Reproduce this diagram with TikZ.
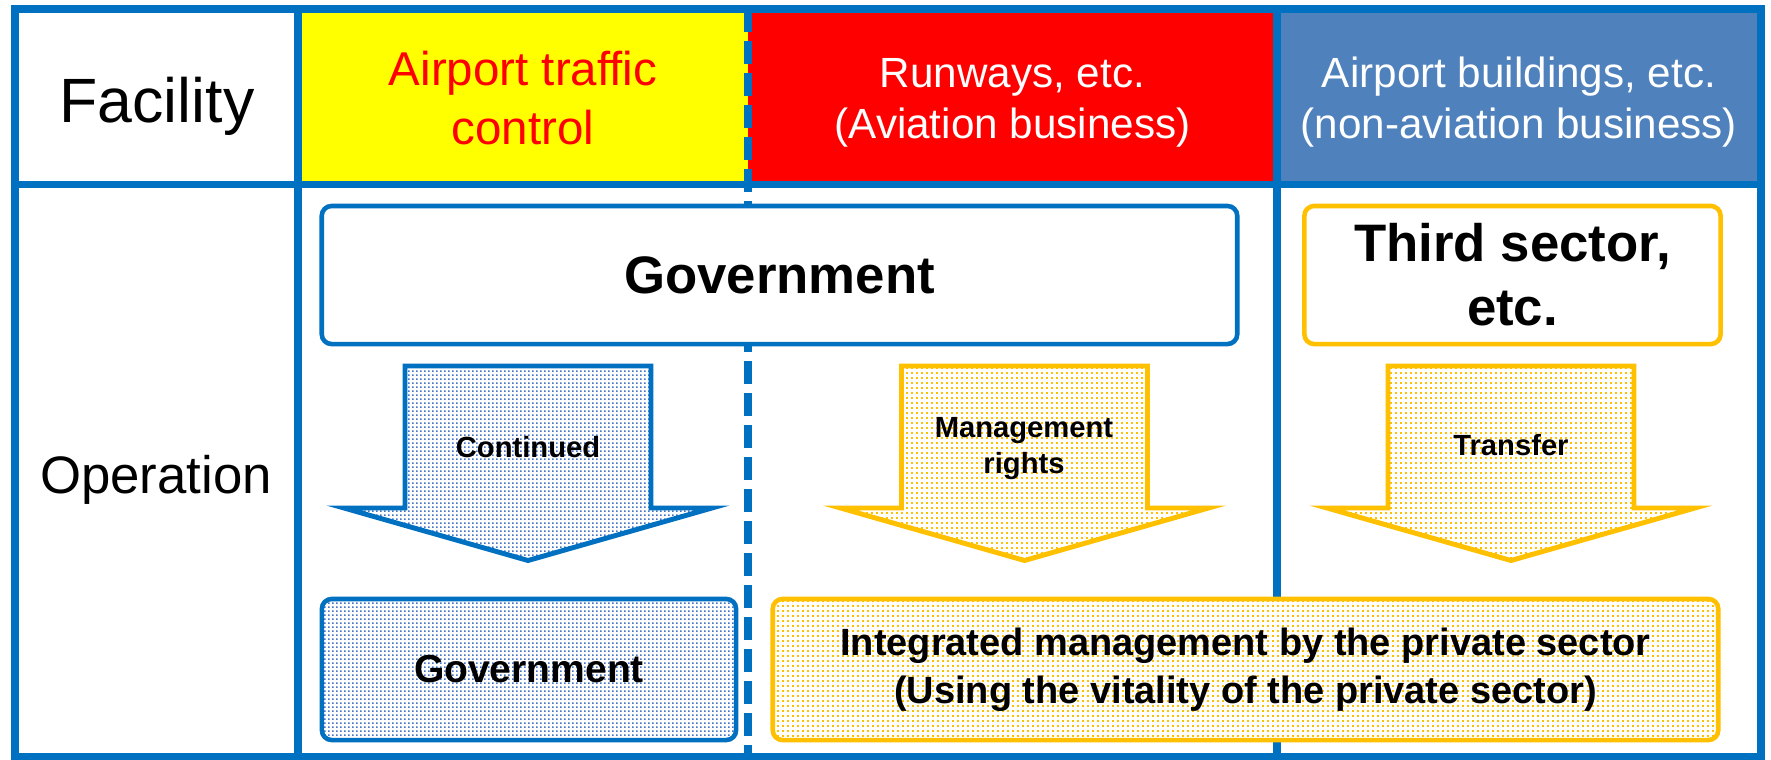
\documentclass[tikz,border=0pt]{standalone}
\usepackage{fontspec}
\setmainfont{Liberation Sans}
\usetikzlibrary{positioning, patterns.meta}
\definecolor{tblBlue}{HTML}{0070C0}
\definecolor{hdrBlue}{HTML}{4F81BD}
\definecolor{mOrange}{HTML}{FFC000}
\definecolor{dotBlue}{HTML}{4472C4}
\definecolor{hdrYellow}{HTML}{FFFF00}
\newcommand{\setfs}[2]{\fontsize{#1}{#2}\selectfont}

\tikzdeclarepattern{
  name=blueDots, type=uncolored,
  bottom left={(0pt,0pt)}, top right={(1.14pt,1.14pt)},
  tile size={(1.14pt,1.14pt)},
  code={\fill (0pt,0pt) rectangle (0.6pt,0.6pt);}
}
\tikzdeclarepattern{
  name=orangeDots, type=uncolored,
  bottom left={(0pt,0pt)}, top right={(1.3pt,1.3pt)},
  tile size={(1.3pt,1.3pt)},
  code={\fill (0pt,0pt) rectangle (0.55pt,0.55pt);}
}

\begin{document}
\begin{tikzpicture}[x=0.01cm, y=-0.01cm,
  grid/.style={draw=tblBlue, line width=2pt},
  hdr/.style={anchor=base, align=center, inner sep=0pt},
  blueBox/.style={draw=tblBlue, line width=1.3pt, rounded corners=2.8pt,
                  align=center, font=\bfseries, inner sep=0pt},
  orangeBox/.style={blueBox, draw=mOrange},
  blueArrow/.style={draw=tblBlue, line width=1.4pt, pattern=blueDots, pattern color=dotBlue},
  orangeArrow/.style={draw=mOrange, line width=1.4pt, pattern=orangeDots, pattern color=mOrange},
  arrowTxt/.style={hdr, font=\bfseries\setfs{8.3pt}{10.2pt}},
]
  \useasboundingbox (0,0) rectangle (1771,760);
  \fill[white] (0,0) rectangle (1771,760);

  % header cells
  \fill[hdrYellow] (298,9) rectangle (748,184.5);
  \fill[red] (748,9) rectangle (1277,184.5);
  \fill[hdrBlue] (1277,9) rectangle (1761,184.5);

  % table lines
  \draw[grid] (15,9) rectangle (1761,756.5);
  \draw[grid] (15,184.5) -- (1761,184.5);
  \draw[grid] (298,9) -- (298,756.5);
  \draw[grid] (1277,9) -- (1277,756.5);
  \draw[grid, dash pattern=on 6.5pt off 2.6pt] (748,9) -- (748,756.5);

  % row titles and facilities (multi-line: base = last line)
  \node[hdr, font=\setfs{17.8pt}{21pt}] (facility) at (157,122) {Facility};
  \node[hdr, font=\setfs{15pt}{18pt}] (operation) at (156,493) {Operation};
  \node[hdr, text=red, font=\setfs{13.5pt}{16.5pt}] (atc) at (523,144) {Airport traffic\\control};
  \node[hdr, text=white, font=\setfs{12pt}{14.3pt}] (runways) at (1012.5,138) {Runways, etc.\\(Aviation business)};
  \node[hdr, text=white, font=\setfs{12pt}{14.5pt}] (buildings) at (1519,138) {Airport buildings, etc.\\(non-aviation business)};

  % current operators
  \node[blueBox, fill=white, minimum width=9.15cm, minimum height=1.38cm,
        font=\bfseries\setfs{15pt}{18pt}] (govTop) at (779.5,275) {Government};
  \node[orangeBox, fill=white, minimum width=4.16cm, minimum height=1.38cm,
        font=\bfseries\setfs{15pt}{18.2pt}] (third) at (1512.5,275) {Third sector,\\etc.};

  % block arrows
  \foreach \cx/\kind in {528/blueArrow, 1024.5/orangeArrow, 1511/orangeArrow}
    \draw[\kind] ({\cx-123},366) -- ({\cx+123},366) -- ({\cx+123},508)
      -- ({\cx+184},508) -- (\cx,560.5) -- ({\cx-184},508)
      -- ({\cx-123},508) -- cycle;
  \node[arrowTxt] (contTxt) at (528,457) {Continued};
  \node[arrowTxt] (mgmtTxt) at (1024,473) {Management\\rights};
  \node[arrowTxt] (xferTxt) at (1511,455) {Transfer};

  % future operators
  \node[blueBox, preaction={fill=white}, pattern=blueDots, pattern color=dotBlue,
        minimum width=4.14cm, minimum height=1.41cm,
        font=\bfseries\setfs{11.1pt}{13pt}] (govBottom) at (529,669.5) {Government};
  \node[orangeBox, preaction={fill=white}, pattern=orangeDots, pattern color=mOrange,
        minimum width=9.45cm, minimum height=1.41cm,
        font=\bfseries\setfs{10.8pt}{13.7pt}] (integrated) at (1245.5,669.5)
        {Integrated management by the private sector\\(Using the vitality of the private sector)};
\end{tikzpicture}
\end{document}
